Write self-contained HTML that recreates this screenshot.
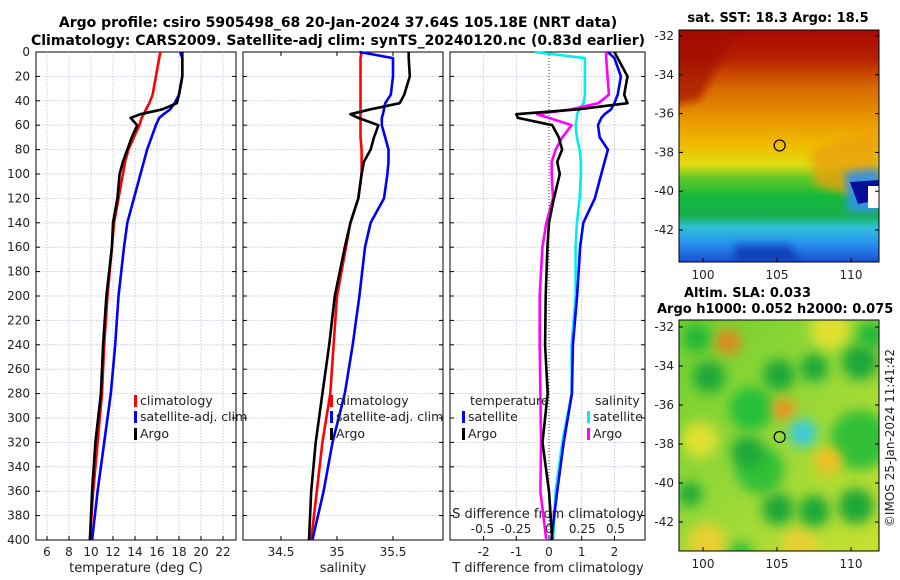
<!DOCTYPE html>
<html><head><meta charset="utf-8"><style>
body{margin:0;background:#fff;}
svg{display:block;font-family:"DejaVu Sans","Liberation Sans",sans-serif;}
</style></head><body>
<svg id="chart" width="900" height="580" viewBox="0 0 900 580">
<defs>
<linearGradient id="sstg" x1="0" y1="0" x2="0" y2="1">
<stop offset="0" stop-color="#a80a00"/><stop offset="0.12" stop-color="#b52000"/>
<stop offset="0.25" stop-color="#d86a00"/><stop offset="0.38" stop-color="#e99400"/>
<stop offset="0.5" stop-color="#f0bd00"/><stop offset="0.58" stop-color="#e0dc10"/>
<stop offset="0.64" stop-color="#60c828"/><stop offset="0.72" stop-color="#12b83a"/>
<stop offset="0.8" stop-color="#18b050"/><stop offset="0.85" stop-color="#30c0d8"/>
<stop offset="0.92" stop-color="#2890f0"/><stop offset="1" stop-color="#1a50d0"/>
</linearGradient>
<linearGradient id="slag" x1="0" y1="0" x2="1" y2="1">
<stop offset="0" stop-color="#6ed030"/><stop offset="0.5" stop-color="#98d838"/><stop offset="1" stop-color="#c8e030"/>
</linearGradient>
<filter id="blur6" x="-100%" y="-100%" width="300%" height="300%"><feGaussianBlur stdDeviation="6"/></filter>
<filter id="blur3" x="-50%" y="-50%" width="200%" height="200%"><feGaussianBlur stdDeviation="4"/></filter>
<clipPath id="m1c"><rect x="679" y="30" width="200" height="232"/></clipPath>
<clipPath id="m2c"><rect x="679" y="320" width="200" height="231"/></clipPath>
</defs>
<g id="main"></g>
</svg>
<script>
const depths = [0,5,20,35,42,47,51,54,60,70,80,90,100,120,140,160,200,240,280,320,360,400];
const tempClim = [16.3,16.2,15.9,15.6,15.3,15.0,14.8,14.6,14.4,13.9,13.4,13.1,12.9,12.5,12.1,11.9,11.5,11.2,11.0,10.6,10.2,9.9];
const tempSat = [18.1,18.3,18.3,18.0,17.6,17.2,16.6,16.2,15.9,15.5,15.1,14.8,14.5,13.9,13.3,13.0,12.5,12.2,11.8,11.2,10.6,10.1];
const tempArgo = [18.3,18.3,18.3,18.0,17.8,16.5,14.5,13.6,14.2,13.7,13.3,12.9,12.6,12.4,12.0,11.9,11.4,11.1,10.9,10.4,10.1,9.9];
const salClim = [35.22,35.21,35.21,35.21,35.21,35.21,35.21,35.21,35.21,35.21,35.22,35.22,35.22,35.19,35.12,35.08,35.0,34.97,34.94,34.87,34.82,34.77];
const salSat = [35.2,35.5,35.5,35.48,35.43,35.42,35.41,35.4,35.4,35.43,35.46,35.46,35.45,35.42,35.3,35.25,35.2,35.14,35.07,34.96,34.88,34.78];
const salArgo = [35.64,35.64,35.65,35.6,35.56,35.3,35.12,35.19,35.37,35.33,35.3,35.24,35.22,35.19,35.12,35.07,34.98,34.93,34.87,34.81,34.77,34.75];
const dTSat = [1.8,2.0,2.2,2.1,2.0,1.9,1.7,1.6,1.5,1.55,1.8,1.7,1.6,1.4,1.05,0.95,0.86,0.73,0.7,0.45,0.25,0.07];
const dTArgo = [2.0,2.1,2.4,2.3,2.4,0.9,-1.0,-0.95,0.1,0.3,0.4,0.25,0.33,0.15,0.0,-0.05,-0.1,-0.12,-0.04,-0.2,0.0,0.1];
const dSSat = [-0.11,0.27,0.27,0.27,0.26,0.23,0.21,0.21,0.2,0.21,0.23,0.24,0.24,0.23,0.21,0.2,0.2,0.17,0.17,0.1,0.05,0.03];
const dSArgo = [0.43,0.43,0.44,0.45,0.37,0.17,-0.09,0.0,0.17,0.1,0.05,0.02,0.02,0.03,-0.02,-0.05,-0.07,-0.07,-0.065,-0.06,-0.065,-0.02];
const depthTicks = [0,20,40,60,80,100,120,140,160,180,200,220,240,260,280,300,320,340,360,380,400];
const tempTicks = [6,8,10,12,14,16,18,20,22];
const salTicks = [34.5,35,35.5];
const dTTicks = [-2,-1,0,1,2];
const dSTicks = [-0.5,-0.25,0,0.25,0.5];
const latTicks = [-32,-34,-36,-38,-40,-42];
const lonTicks = [100,105,110];

const NS='http://www.w3.org/2000/svg';
const root=document.getElementById('main');
function mk(tag,attrs,parent,txt){const e=document.createElementNS(NS,tag);for(const k in attrs)e.setAttribute(k,attrs[k]);if(txt!==undefined)e.textContent=txt;(parent||root).appendChild(e);return e;}

const yD = d => 52 + d*1.22;
const xT = t => 47 + (t-6)*11;
const xS = s => 337 + (s-35)*112;
const xDT = v => 549 + v*32.7;
const xDS = v => 549 + v*133;
const P = [[36,236],[243,443],[450,645]];
const Y0=52, Y1=540;

let t=mk('text',{x:338,y:27,'text-anchor':'middle','font-size':14,'font-weight':'bold'},root,'Argo profile: csiro 5905498_68 20-Jan-2024 37.64S 105.18E (NRT data)');


t=mk('text',{x:338,y:45,'text-anchor':'middle','font-size':14,'font-weight':'bold'},root,'Climatology: CARS2009. Satellite-adj clim: synTS_20240120.nc (0.83d earlier)');



P.forEach((p,i)=>{
  const g=mk('g',{});
  
  
  depthTicks.forEach(d=>{
    const y=yD(d);
    mk('line',{x1:p[0],x2:p[1],y1:y,y2:y,stroke:'#b8c0e0','stroke-width':0.8,'stroke-dasharray':'1.5,1.5'},g);
    mk('line',{x1:p[0],x2:p[0]+4,y1:y,y2:y,stroke:'#000'},g);
    mk('line',{x1:p[1]-4,x2:p[1],y1:y,y2:y,stroke:'#000'},g);
  });
  mk('rect',{x:p[0],y:Y0,width:p[1]-p[0],height:Y1-Y0,fill:'none',stroke:'#000','stroke-width':1},g);
});
depthTicks.forEach(d=>{
  const l=mk('text',{x:30,y:yD(d)+4,'text-anchor':'end','font-size':12,fill:'#222'},root,String(d));
  
  
});
tempTicks.forEach(v=>{
  const x=xT(v);
  mk('line',{x1:x,x2:x,y1:Y0,y2:Y1,stroke:'#b8c0e0','stroke-width':0.8,'stroke-dasharray':'1.5,1.5'});
  mk('line',{x1:x,x2:x,y1:Y1-4,y2:Y1,stroke:'#000'});
  const l=mk('text',{x:x,y:556,'text-anchor':'middle','font-size':12,fill:'#222'},root,String(v));
  
  
});
salTicks.forEach(v=>{
  const x=xS(v);
  mk('line',{x1:x,x2:x,y1:Y1-4,y2:Y1,stroke:'#000'});
  mk('line',{x1:x,x2:x,y1:Y0,y2:Y0+4,stroke:'#000'});
  const l=mk('text',{x:x,y:556,'text-anchor':'middle','font-size':12,fill:'#222'},root,String(v));
  
  
});
dTTicks.forEach(v=>{
  const x=xDT(v);
  if(v!==0) mk('line',{x1:x,x2:x,y1:Y0,y2:Y1,stroke:'#b8c0e0','stroke-width':0.8,'stroke-dasharray':'1.5,1.5'});
  mk('line',{x1:x,x2:x,y1:Y1-4,y2:Y1,stroke:'#000'});
  const l=mk('text',{x:x,y:556,'text-anchor':'middle','font-size':12,fill:'#222'},root,String(v));
  
  
});
dSTicks.forEach(v=>{
  const l=mk('text',{x:xDS(v),y:533,'text-anchor':'middle','font-size':12,fill:'#222'},root,String(v));
  
  
});
mk('line',{x1:xDT(0),x2:xDT(0),y1:Y0,y2:Y1,stroke:'#333','stroke-width':1,'stroke-dasharray':'1,2'});
[['temperature (deg C)',136,'x-axis-title-temperature'],['salinity',343,'x-axis-title-salinity'],['T difference from climatology',548,'x-axis-title-t-diff']].forEach(a=>{
  const l=mk('text',{x:a[1],y:572,'text-anchor':'middle','font-size':13,fill:'#222'},root,a[0]);
  
  
});
t=mk('text',{x:548,y:518,'text-anchor':'middle','font-size':13,fill:'#222'},root,'S difference from climatology');



function line(xs,fx,color,name){
  const pts=depths.map((d,i)=>fx(xs[i]).toFixed(1)+','+yD(d).toFixed(1)).join(' ');
  const e=mk('polyline',{points:pts,fill:'none',stroke:color,'stroke-width':2.6,'stroke-linejoin':'round'});
  
  
}
line(tempClim,xT,'#ff0000','temp-climatology-line');
line(tempSat,xT,'#0000ff','temp-satellite-line');
line(tempArgo,xT,'#000000','temp-argo-line');
line(salClim,xS,'#ff0000','sal-climatology-line');
line(salSat,xS,'#0000ff','sal-satellite-line');
line(salArgo,xS,'#000000','sal-argo-line');
line(dSSat,xDS,'#00eeee','sdiff-satellite-line');
line(dSArgo,xDS,'#ff00ff','sdiff-argo-line');
line(dTSat,xDT,'#0000ff','tdiff-satellite-line');
line(dTArgo,xDT,'#000000','tdiff-argo-line');

function legend(x,y,color,label,name){
  const g=mk('g',{});
  
  
  mk('rect',{x:x,y:y-10,width:3,height:12,fill:color},g);
  mk('text',{x:x+6,y:y,'font-size':12.5,fill:'#222'},g,label);
}
legend(134,405,'#ff0000','climatology','legend-climatology');
legend(134,421,'#0000ff','satellite-adj. clim','legend-satellite-adj');
legend(134,438,'#000000','Argo','legend-argo');
legend(330,405,'#ff0000','climatology','legend-sal-climatology');
legend(330,421,'#0000ff','satellite-adj. clim','legend-sal-satellite-adj');
legend(330,438,'#000000','Argo','legend-sal-argo');
t=mk('text',{x:470,y:405,'font-size':12.5,fill:'#222'},root,'temperature');


t=mk('text',{x:595,y:405,'font-size':12.5,fill:'#222'},root,'salinity');


legend(462,421,'#0000ff','satellite','legend-t-satellite');
legend(462,438,'#000000','Argo','legend-t-argo');
legend(587,421,'#00eeee','satellite','legend-s-satellite');
legend(587,438,'#ff00ff','Argo','legend-s-argo');

const lonX = v => 703 + (v-100)*14.8;
const lat1 = v => 36 + (-32 - v)*19.4;
const lat2 = v => 327 + (-32 - v)*19.5;
t=mk('text',{x:778,y:22,'text-anchor':'middle','font-size':13,'font-weight':'bold'},root,'sat. SST: 18.3 Argo: 18.5');


t=mk('text',{x:684,y:297,'font-size':13,'font-weight':'bold'},root,'Altim. SLA: 0.033');


t=mk('text',{x:657,y:313,'font-size':13,'font-weight':'bold'},root,'Argo h1000: 0.052 h2000: 0.075');



const m1=mk('g',{'clip-path':'url(#m1c)'});


mk('rect',{x:679,y:30,width:200,height:232,fill:'url(#sstg)'},m1);
mk('path',{d:'M810 150 L840 140 L879 130 L879 175 L850 195 L815 185 Z',fill:'#eaa010',opacity:0.8,filter:'url(#blur3)'},m1);
mk('path',{d:'M650 20 L740 20 L700 100 L650 110 Z',fill:'#a00800',opacity:0.7,filter:'url(#blur3)'},m1);
mk('path',{d:'M845 172 L879 168 L879 212 L848 212 Z',fill:'#3090f0',opacity:0.9,filter:'url(#blur3)'},m1);
mk('path',{d:'M850 182 L879 180 L879 200 L858 204 Z',fill:'#000090',opacity:0.9},m1);
mk('rect',{x:868,y:186,width:11,height:22,fill:'#ffffff'},m1);
mk('path',{d:'M735 245 L790 245 L800 262 L735 262 Z',fill:'#0838b0',opacity:0.8,filter:'url(#blur3)'},m1);
mk('rect',{x:679,y:30,width:200,height:232,fill:'none',stroke:'#000'});

const m2=mk('g',{'clip-path':'url(#m2c)'});


mk('rect',{x:679,y:320,width:200,height:231,fill:'url(#slag)'},m2);
const blobs=[[860,440,30,'#30c038'],[760,470,24,'#30c038'],[751,409,22,'#28c038'],[830,330,20,'#e0e030'],[700,440,18,'#e0e030'],[800,545,18,'#e8d030'],[707,543,20,'#e8d030'],
[697,338,14,'#22b838'],[709,377,16,'#1aa838'],[779,375,16,'#1aa838'],[814,368,14,'#1aa838'],[860,362,18,'#1aa838'],[871,335,14,'#22b838'],[747,452,16,'#1aa838'],[690,494,12,'#1aa838'],[778,509,16,'#1aa838'],[814,511,16,'#1aa838'],[856,506,18,'#1aa838'],[741,554,12,'#28c038'],
[728,342,13,'#e08820'],[784,409,11,'#f09020'],[828,461,14,'#f0c020'],[803,433,14,'#40d0c0'],[803,433,7,'#40c8f0']];
blobs.forEach(b=>{mk('circle',{cx:b[0],cy:b[1],r:b[2],fill:b[3],filter:'url(#blur6)'},m2);});
mk('rect',{x:679,y:320,width:200,height:231,fill:'none',stroke:'#000'});

[[lat1,30,262],[lat2,320,551]].forEach((m,k)=>{
  latTicks.forEach(v=>{
    const y=m[0](v);
    mk('line',{x1:679,x2:683,y1:y,y2:y,stroke:'#000'});
    mk('line',{x1:875,x2:879,y1:y,y2:y,stroke:'#000'});
    const l=mk('text',{x:674,y:y+4,'text-anchor':'end','font-size':12,fill:'#222'},root,String(v));
    
    
  });
  lonTicks.forEach(v=>{
    const x=lonX(v);
    mk('line',{x1:x,x2:x,y1:m[2]-4,y2:m[2],stroke:'#000'});
    const l=mk('text',{x:x,y:m[2]+17,'text-anchor':'middle','font-size':12,fill:'#222'},root,String(v));
    
    
  });
});
let c=mk('circle',{cx:lonX(105.18),cy:lat1(-37.64),r:5.5,fill:'none',stroke:'#000','stroke-width':1.2});


c=mk('circle',{cx:lonX(105.18),cy:lat2(-37.64),r:5.5,fill:'none',stroke:'#000','stroke-width':1.2});


t=mk('text',{x:894,y:438,'text-anchor':'middle','font-size':12,fill:'#222',transform:'rotate(-90 894 438)'},root,'©IMOS 25-Jan-2024 11:41:42');


</script>
</body></html>
